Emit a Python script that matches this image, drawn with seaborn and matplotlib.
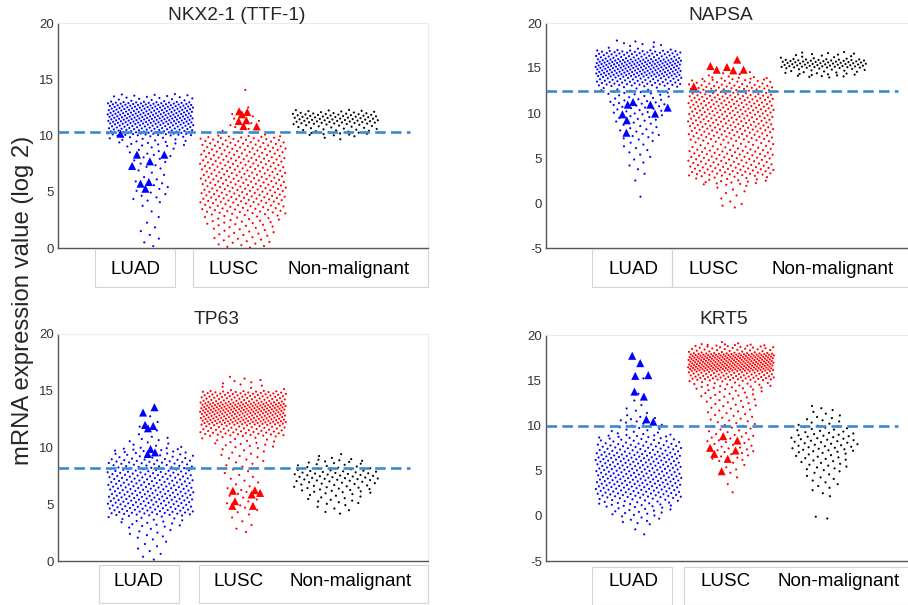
import numpy as np
import pandas as pd
import matplotlib
matplotlib.use("Agg")
import matplotlib.pyplot as plt
import seaborn as sns
from matplotlib.patches import Rectangle
from matplotlib.transforms import ScaledTranslation

# ---------------- data ----------------
genes = ["NKX2-1 (TTF-1)", "NAPSA", "TP63", "KRT5"]
groups = ["LUAD", "LUSC", "Non-malignant"]
thresholds = [10.3, 12.5, 8.2, 9.9]
y_limits = [(0, 20), (-5, 20), (0, 20), (-5, 20)]

# each group: value range [min, max] and number of samples per bin
# (bins run from min to max on whole-number edges)
nkx2_luad_lim = [0.0, 13.7]
nkx2_luad_counts = [3, 3, 2, 2, 7, 6, 5, 7, 9, 22, 75, 95, 90, 20]
nkx2_lusc_lim = [0.0, 14.1]
nkx2_lusc_counts = [14, 16, 22, 34, 42, 42, 42, 42, 40, 38, 6, 5, 1, 0, 1]
nkx2_normal_lim = [9.6, 12.3]
nkx2_normal_counts = [3, 30, 60, 10]
nkx2_luad_marked = [8.3, 8.3, 7.3, 7.7, 5.87, 5.27, 5.72, 10.16]
nkx2_lusc_marked = [10.81, 11.35, 12.15, 12.09, 11.88, 11.29, 10.84]

napsa_luad_lim = [0.4, 18.1]
napsa_luad_counts = [1, 0, 1, 2, 3, 4, 5, 8, 8, 10, 14, 14, 20, 50, 75, 80, 55, 10, 1]
napsa_lusc_lim = [-0.6, 14.6]
napsa_lusc_counts = [3, 3, 5, 20, 35, 32, 32, 25, 35, 40, 42, 45, 45, 42, 30, 5]
napsa_normal_lim = [13.9, 16.8]
napsa_normal_counts = [1, 25, 60, 14]
napsa_luad_marked = [10.93, 10.6, 10.93, 9.93, 9.85, 9.19, 11.22, 7.81]
napsa_lusc_marked = [12.96, 14.81, 15.11, 15.93, 15.22, 14.74, 14.81]

tp63_luad_lim = [0.0, 13.0]
tp63_luad_counts = [4, 5, 9, 18, 50, 55, 52, 48, 40, 24, 10, 3, 2]
tp63_lusc_lim = [2.4, 16.3]
tp63_lusc_counts = [2, 3, 5, 6, 6, 6, 8, 10, 18, 50, 95, 110, 70, 10, 2]
tp63_normal_lim = [4.1, 9.5]
tp63_normal_counts = [6, 14, 25, 35, 20, 3]
tp63_luad_marked = [13.55, 13.08, 11.99, 11.69, 11.9, 9.87, 9.43, 9.57]
tp63_lusc_marked = [5.86, 6.0, 6.24, 5.27, 4.86, 4.86, 6.19]

krt5_luad_lim = [-2.1, 15.4]
krt5_luad_counts = [1, 1, 8, 15, 25, 40, 45, 45, 45, 45, 35, 25, 12, 8, 4, 2, 1, 0, 1]
krt5_lusc_lim = [2.2, 19.3]
krt5_lusc_counts = [1, 1, 2, 4, 8, 10, 10, 10, 10, 10, 12, 15, 25, 60, 110, 110, 40, 2]
krt5_normal_lim = [-0.4, 12.3]
krt5_normal_counts = [2, 0, 0, 3, 5, 6, 10, 12, 18, 18, 14, 8, 5, 1]
krt5_luad_marked = [17.7, 16.89, 15.56, 15.48, 13.74, 13.19, 10.67, 10.41]
krt5_lusc_marked = [8.33, 6.3, 6.85, 4.93, 7.52, 7.22, 8.81]

panels = [
    [(nkx2_luad_lim, nkx2_luad_counts, nkx2_luad_marked),
     (nkx2_lusc_lim, nkx2_lusc_counts, nkx2_lusc_marked),
     (nkx2_normal_lim, nkx2_normal_counts, [])],
    [(napsa_luad_lim, napsa_luad_counts, napsa_luad_marked),
     (napsa_lusc_lim, napsa_lusc_counts, napsa_lusc_marked),
     (napsa_normal_lim, napsa_normal_counts, [])],
    [(tp63_luad_lim, tp63_luad_counts, tp63_luad_marked),
     (tp63_lusc_lim, tp63_lusc_counts, tp63_lusc_marked),
     (tp63_normal_lim, tp63_normal_counts, [])],
    [(krt5_luad_lim, krt5_luad_counts, krt5_luad_marked),
     (krt5_lusc_lim, krt5_lusc_counts, krt5_lusc_marked),
     (krt5_normal_lim, krt5_normal_counts, [])],
]

colors = {"LUAD": "#0000ff", "LUSC": "#ff0000", "Non-malignant": "#000000"}

# ---------------- helpers ----------------
def bin_edges(lim):
    lo, hi = lim
    inner = [k for k in range(int(np.floor(lo)), int(np.ceil(hi)) + 1) if lo < k < hi]
    return np.array([lo] + inner + [hi], dtype=float)


def expand_bins(lim, counts):
    edges = bin_edges(lim)
    vals = []
    for a, b, n in zip(edges[:-1], edges[1:], counts):
        if n > 0:
            vals.extend(a + (np.arange(n) + 0.5) / n * (b - a))
    centers = 0.5 * (edges[:-1] + edges[1:])
    dens = np.array(counts, dtype=float) / np.diff(edges)
    return np.array(vals), centers, dens


PHI = (np.sqrt(5) - 1) / 2
MAXW, CAP = 0.93, 26.0


def spread_group(pos, lim, counts, marked, name):
    vals, centers, dens = expand_bins(lim, counts)
    allv = np.concatenate([vals, np.array(marked, dtype=float)])
    flag = np.concatenate([np.zeros(len(vals), bool), np.ones(len(marked), bool)])
    order = np.argsort(allv, kind="stable")
    allv, flag = allv[order], flag[order]
    d = np.interp(allv, centers, dens)
    w = MAXW * np.minimum(1.0, d / CAP) ** 0.6
    frac = ((np.arange(len(allv)) + 1) * PHI) % 1.0
    x = pos + w * (frac - 0.5)
    return pd.DataFrame({"x": x, "value": allv, "group": name, "marked": flag})


# ---------------- figure ----------------
sns.set_theme(style="white")
plt.rcParams["font.family"] = ["Liberation Sans", "DejaVu Sans"]
plt.rcParams["axes.unicode_minus"] = False

W, H = 908, 605
fig = plt.figure(figsize=(W / 100, H / 100), dpi=100)

# axes rectangles in pixels: left, top, right, bottom
ax_px = [(58, 23, 428, 248), (546, 23, 912, 248),
         (58, 334, 428, 561), (546, 335, 912, 561)]
title_px = [(237, 16), (721, 16), (217, 320), (724, 320)]
label_shift = [(-15, -9, 13), (-5, -17, 9), (-12, -4, 15), (-5, -5, 15)]
boxes_px = [
    [(95, 249, 175, 287), (193, 249, 428, 287)],
    [(592, 249, 672, 287), (672, 249, 912, 287)],
    [(99, 565, 179, 603), (199, 565, 428, 603)],
    [(592, 567, 672, 605), (684, 567, 912, 605)],
]
px_per_unit = 92.5

for k in range(4):
    l, t, r, b = ax_px[k]
    ax = fig.add_axes([l / W, 1 - b / H, (r - l) / W, (b - t) / H])
    df = pd.concat([spread_group(i + 1, *panels[k][i], groups[i]) for i in range(3)],
                   ignore_index=True)
    sns.scatterplot(data=df[~df["marked"]], x="x", y="value", hue="group",
                    palette=colors, s=2.4, linewidth=0, legend=False, ax=ax,
                    zorder=2)
    sns.scatterplot(data=df[df["marked"]], x="x", y="value", hue="group",
                    palette=colors, s=34, marker="^", linewidth=0, legend=False,
                    ax=ax, zorder=3)
    ax.hlines(thresholds[k], 0, 3.8, colors="#3b8bd0", linestyles=(0, (4, 2)),
              linewidth=1.9, zorder=4)

    ax.set_xlim(0, (r - l) / px_per_unit)
    ax.set_ylim(*y_limits[k])
    ax.set_yticks(np.arange(y_limits[k][0], y_limits[k][1] + 1, 5))
    ax.set_xticks([1, 2, 3], groups)
    ax.set_xlabel("")
    ax.set_ylabel("")
    ax.tick_params(axis="y", direction="in", length=4, width=0.8, color="#444444",
                   labelcolor="#333333", labelsize=9.5, pad=3)
    ax.tick_params(axis="x", direction="in", length=4, width=0.8, color="#444444",
                   labelcolor="#000000", labelsize=13.5, pad=9)
    for lab, dx in zip(ax.get_xticklabels(), label_shift[k]):
        lab.set_transform(lab.get_transform() + ScaledTranslation(dx / 100, 0, fig.dpi_scale_trans))
    for side in ["left", "bottom"]:
        ax.spines[side].set_color("#555555")
        ax.spines[side].set_linewidth(1.0)
    for side in ["top", "right"]:
        ax.spines[side].set_color("#ececec")
        ax.spines[side].set_linewidth(0.8)

    tx, ty = title_px[k]
    fig.text(tx / W, 1 - ty / H, genes[k], ha="center", va="center", fontsize=13.8)
    for (x0, y0, x1, y1) in boxes_px[k]:
        fig.add_artist(Rectangle((x0 / W, 1 - y1 / H), (x1 - x0) / W, (y1 - y0) / H,
                                 transform=fig.transFigure, fill=False,
                                 edgecolor="#d4d4d4", linewidth=0.8))

fig.text(23 / W, 1 - 300 / H, "mRNA expression value (log 2)", rotation=90,
         ha="center", va="center", fontsize=17.2)

fig.savefig("out.png", dpi=100)
